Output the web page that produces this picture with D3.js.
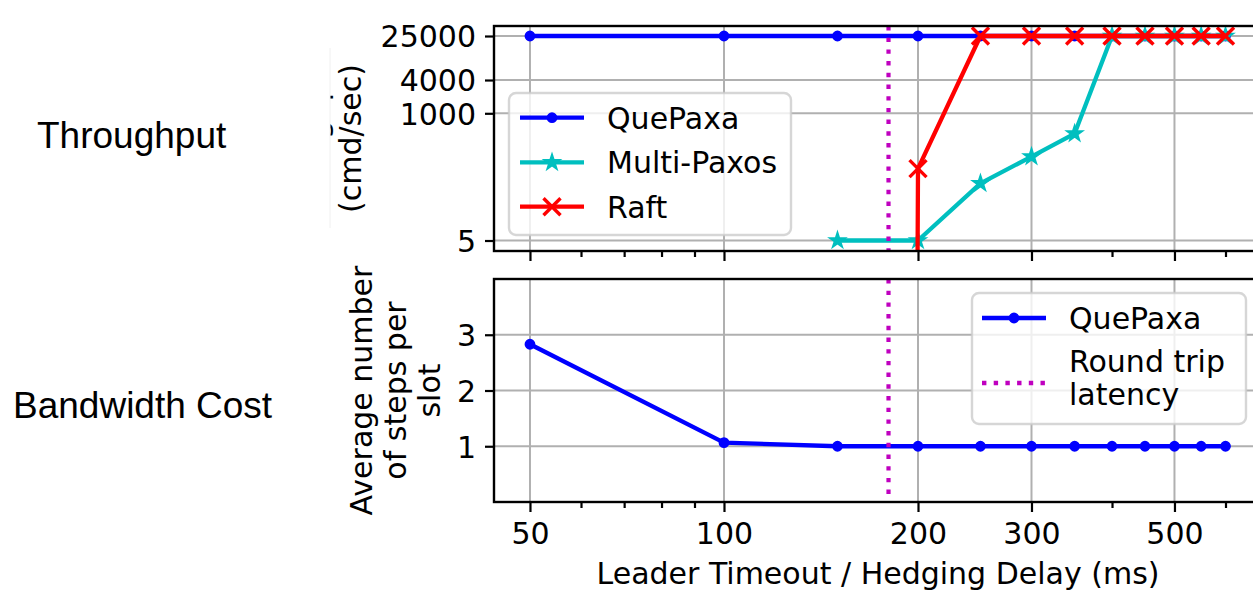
<!DOCTYPE html>
<html><head><meta charset="utf-8">
<script src="https://cdn.jsdelivr.net/npm/d3@7"></script>
<style>
body{margin:0;background:#fff}
svg{display:block}
text{font-family:"DejaVu Sans",sans-serif;fill:#000}
</style>
</head><body>
<svg id="c" width="1253" height="594"></svg>
<script>
// ---------------- data ----------------
const delays = [50, 100, 150, 200, 250, 300, 350, 400, 450, 500, 550, 600];
const quepaxaThroughput = [25000, 25000, 25000, 25000, 25000, 25000, 25000, 25000, 25000, 25000, 25000, 25000];
const multiPaxosDelays = [150, 200, 250, 300, 350, 400, 450, 500, 550, 600];
const multiPaxosThroughput = [5, 5, 54, 165, 430, 25000, 25000, 25000, 25000, 25000];
const raftThroughput = [0, 0, 0, 100, 25000, 25000, 25000, 25000, 25000, 25000, 25000, 25000];
const quepaxaSteps = [2.83, 1.065, 1, 1, 1, 1, 1, 1, 1, 1, 1, 1];
const roundTripLatency = 180;
const xMajorTicks = [50, 100, 200, 300, 500];
const xMinorTicks = [60, 70, 80, 90, 400, 600];
const throughputTicks = [5, 1000, 4000, 25000];
const stepsTicks = [1, 2, 3];
const seriesNames = ["QuePaxa", "Multi-Paxos", "Raft"];
const latencyName = ["Round trip", "latency"];

// ---------------- layout ----------------
const L = 494, R = 1260;
const TOP = {t: 26, b: 251}, BOT = {t: 279, b: 502};
const FS = 30;
const C = {blue: "#0000ff", cyan: "#00bfbf", red: "#ff0000", mag: "#bf00bf", grid: "#b0b0b0"};

const svg = d3.select("#c");
const x = d3.scaleLog().domain([43.97, 678.7]).range([L, R]);
const yT = d3.scaleLog().domain([3.23, 37930]).range([TOP.b, TOP.t]);
const yB = d3.scaleLinear().domain([0, 4]).range([BOT.b, BOT.t]);

const defs = svg.append("defs");
[["clipT", TOP], ["clipB", BOT]].forEach(([id, p]) => {
  defs.append("clipPath").attr("id", id).append("rect")
    .attr("x", L).attr("y", p.t).attr("width", R - L).attr("height", p.b - p.t);
});

// side annotations
svg.append("text").attr("x", 37).attr("y", 148)
  .style("font-family", "'Liberation Sans', Arial, sans-serif").style("font-size", "37px").text("Throughput");
svg.append("text").attr("x", 13).attr("y", 418)
  .style("font-family", "'Liberation Sans', Arial, sans-serif").style("font-size", "37px").text("Bandwidth Cost");

function grid(p, y, yticks) {
  const g = svg.append("g");
  g.selectAll(".gx").data(xMajorTicks).join("line")
    .attr("x1", d => x(d)).attr("x2", d => x(d)).attr("y1", p.t).attr("y2", p.b)
    .attr("stroke", C.grid).attr("stroke-width", 2);
  g.selectAll(".gy").data(yticks).join("line")
    .attr("x1", L).attr("x2", R).attr("y1", d => y(d)).attr("y2", d => y(d))
    .attr("stroke", C.grid).attr("stroke-width", 2);
}

function axes(p, y, yticks, fmt, showXLabels) {
  const ax = svg.append("g").attr("transform", `translate(0,${p.b})`)
    .call(d3.axisBottom(x).tickValues(xMajorTicks).tickSize(10).tickPadding(10.5)
      .tickFormat(showXLabels ? d3.format("d") : () => ""));
  const axm = svg.append("g").attr("transform", `translate(0,${p.b})`)
    .call(d3.axisBottom(x).tickValues(xMinorTicks).tickSize(6).tickFormat(() => ""));
  const ay = svg.append("g").attr("transform", `translate(${L},0)`)
    .call(d3.axisLeft(y).tickValues(yticks).tickSize(9).tickPadding(9).tickFormat(fmt));
  [ax, axm, ay].forEach(a => {
    a.select(".domain").remove();
    a.selectAll("line").attr("stroke", "#000").attr("stroke-width", 2.2);
    a.selectAll("text").style("font-size", FS + "px").style("font-family", "'DejaVu Sans',sans-serif").attr("fill", "#000");
  });
  ay.selectAll("text").attr("dy", "0.36em");
  svg.append("rect").attr("x", L).attr("y", p.t).attr("width", R - L).attr("height", p.b - p.t)
    .attr("fill", "none").attr("stroke", "#000").attr("stroke-width", 2.4);
}

const sym = {
  dot: (g, color) => g.append("circle").attr("r", 4.6).attr("fill", color).attr("stroke", color).attr("stroke-width", 1.6),
  star: (g, color) => g.append("path").attr("d", d3.symbol(d3.symbolStar, 72 / 0.8908)()).attr("fill", color).attr("stroke", color).attr("stroke-width", 1.5),
  x: (g, color) => g.append("path").attr("d", "M-8.5,-8.5L8.5,8.5M-8.5,8.5L8.5,-8.5").attr("fill", "none").attr("stroke", color).attr("stroke-width", 3.4)
};

function series(layer, pts, y, color, marker) {
  const yy = v => y(v > 0 ? v : 1e-300);
  layer.append("path").datum(pts)
    .attr("d", d3.line().x(d => x(d[0])).y(d => yy(d[1])))
    .attr("fill", "none").attr("stroke", color).attr("stroke-width", 4.3).attr("stroke-linejoin", "round");
  pts.forEach(d => {
    const g = layer.append("g").attr("transform", `translate(${x(d[0])},${yy(d[1])})`);
    sym[marker](g, color);
  });
}

function vline(layer, p) {
  layer.append("line").attr("x1", x(roundTripLatency)).attr("x2", x(roundTripLatency))
    .attr("y1", p.t).attr("y2", p.b).attr("stroke", C.mag).attr("stroke-width", 4.2)
    .attr("stroke-dasharray", "4.4 7.3");
}

// ---------------- top panel ----------------
grid(TOP, yT, throughputTicks);
const lt = svg.append("g").attr("clip-path", "url(#clipT)");
series(lt, delays.map((d, i) => [d, quepaxaThroughput[i]]), yT, C.blue, "dot");
series(lt, multiPaxosDelays.map((d, i) => [d, multiPaxosThroughput[i]]), yT, C.cyan, "star");
series(lt, delays.map((d, i) => [d, raftThroughput[i]]), yT, C.red, "x");
vline(lt, TOP);
axes(TOP, yT, throughputTicks, d3.format("d"), false);

// ---------------- bottom panel ----------------
grid(BOT, yB, stepsTicks);
const lb = svg.append("g").attr("clip-path", "url(#clipB)");
series(lb, delays.map((d, i) => [d, quepaxaSteps[i]]), yB, C.blue, "dot");
vline(lb, BOT);
axes(BOT, yB, stepsTicks, d3.format("d"), true);

// ---------------- axis labels ----------------
function rotLabel(lines, xs, cy) {
  lines.forEach((t, i) => {
    svg.append("text").attr("transform", `translate(${xs[i]},${cy}) rotate(-90)`)
      .attr("text-anchor", "middle").style("font-size", FS + "px").text(t);
  });
}
rotLabel(["Throughput", "(cmd/sec)"], [327, 361], 138.5);
// white patch that hides most of the first label line (as in the source image)
svg.append("rect").attr("x", 290).attr("y", 48).attr("width", 40).attr("height", 180).attr("fill", "#fff");
svg.append("line").attr("x1", 330).attr("x2", 330).attr("y1", 48).attr("y2", 228)
  .attr("stroke", "#f0f0f0").attr("stroke-width", 1);
rotLabel(["Average number", "of steps per", "slot"], [372, 406, 440], 390.5);
svg.append("text").attr("x", (L + R) / 2 + 1).attr("y", 584).attr("text-anchor", "middle")
  .style("font-size", FS + "px").text("Leader Timeout / Hedging Delay (ms)");

// ---------------- legends ----------------
function legendBox(x0, y0, w, h) {
  svg.append("rect").attr("x", x0).attr("y", y0).attr("width", w).attr("height", h).attr("rx", 7)
    .attr("fill", "#fff").attr("fill-opacity", 0.8).attr("stroke", "#cccccc").attr("stroke-opacity", 0.8).attr("stroke-width", 2.4);
}
function legendEntry(x0, yc, color, marker, dashed) {
  const ln = svg.append("line").attr("x1", x0).attr("x2", x0 + 64).attr("y1", yc).attr("y2", yc)
    .attr("stroke", color).attr("stroke-width", 4.3);
  if (dashed) ln.attr("stroke-dasharray", "4.4 7.3");
  if (marker) sym[marker](svg.append("g").attr("transform", `translate(${x0 + 32},${yc})`), color);
}
legendBox(509, 93, 282, 142);
const topLegend = [[C.blue, "dot"], [C.cyan, "star"], [C.red, "x"]];
const rowsY = [117.7, 162.3, 206.7];
seriesNames.forEach((n, i) => {
  legendEntry(520, rowsY[i], topLegend[i][0], topLegend[i][1], false);
  svg.append("text").attr("x", 607).attr("y", rowsY[i] + 11).style("font-size", FS + "px").text(n);
});

legendBox(972, 293, 274, 131);
legendEntry(982, 318, C.blue, "dot", false);
svg.append("text").attr("x", 1069).attr("y", 328.5).style("font-size", FS + "px").text(seriesNames[0]);
legendEntry(982, 383, C.mag, null, true);
latencyName.forEach((t, i) => {
  svg.append("text").attr("x", 1069).attr("y", 371.7 + i * 33.5).style("font-size", FS + "px").text(t);
});
</script>
</body></html>
